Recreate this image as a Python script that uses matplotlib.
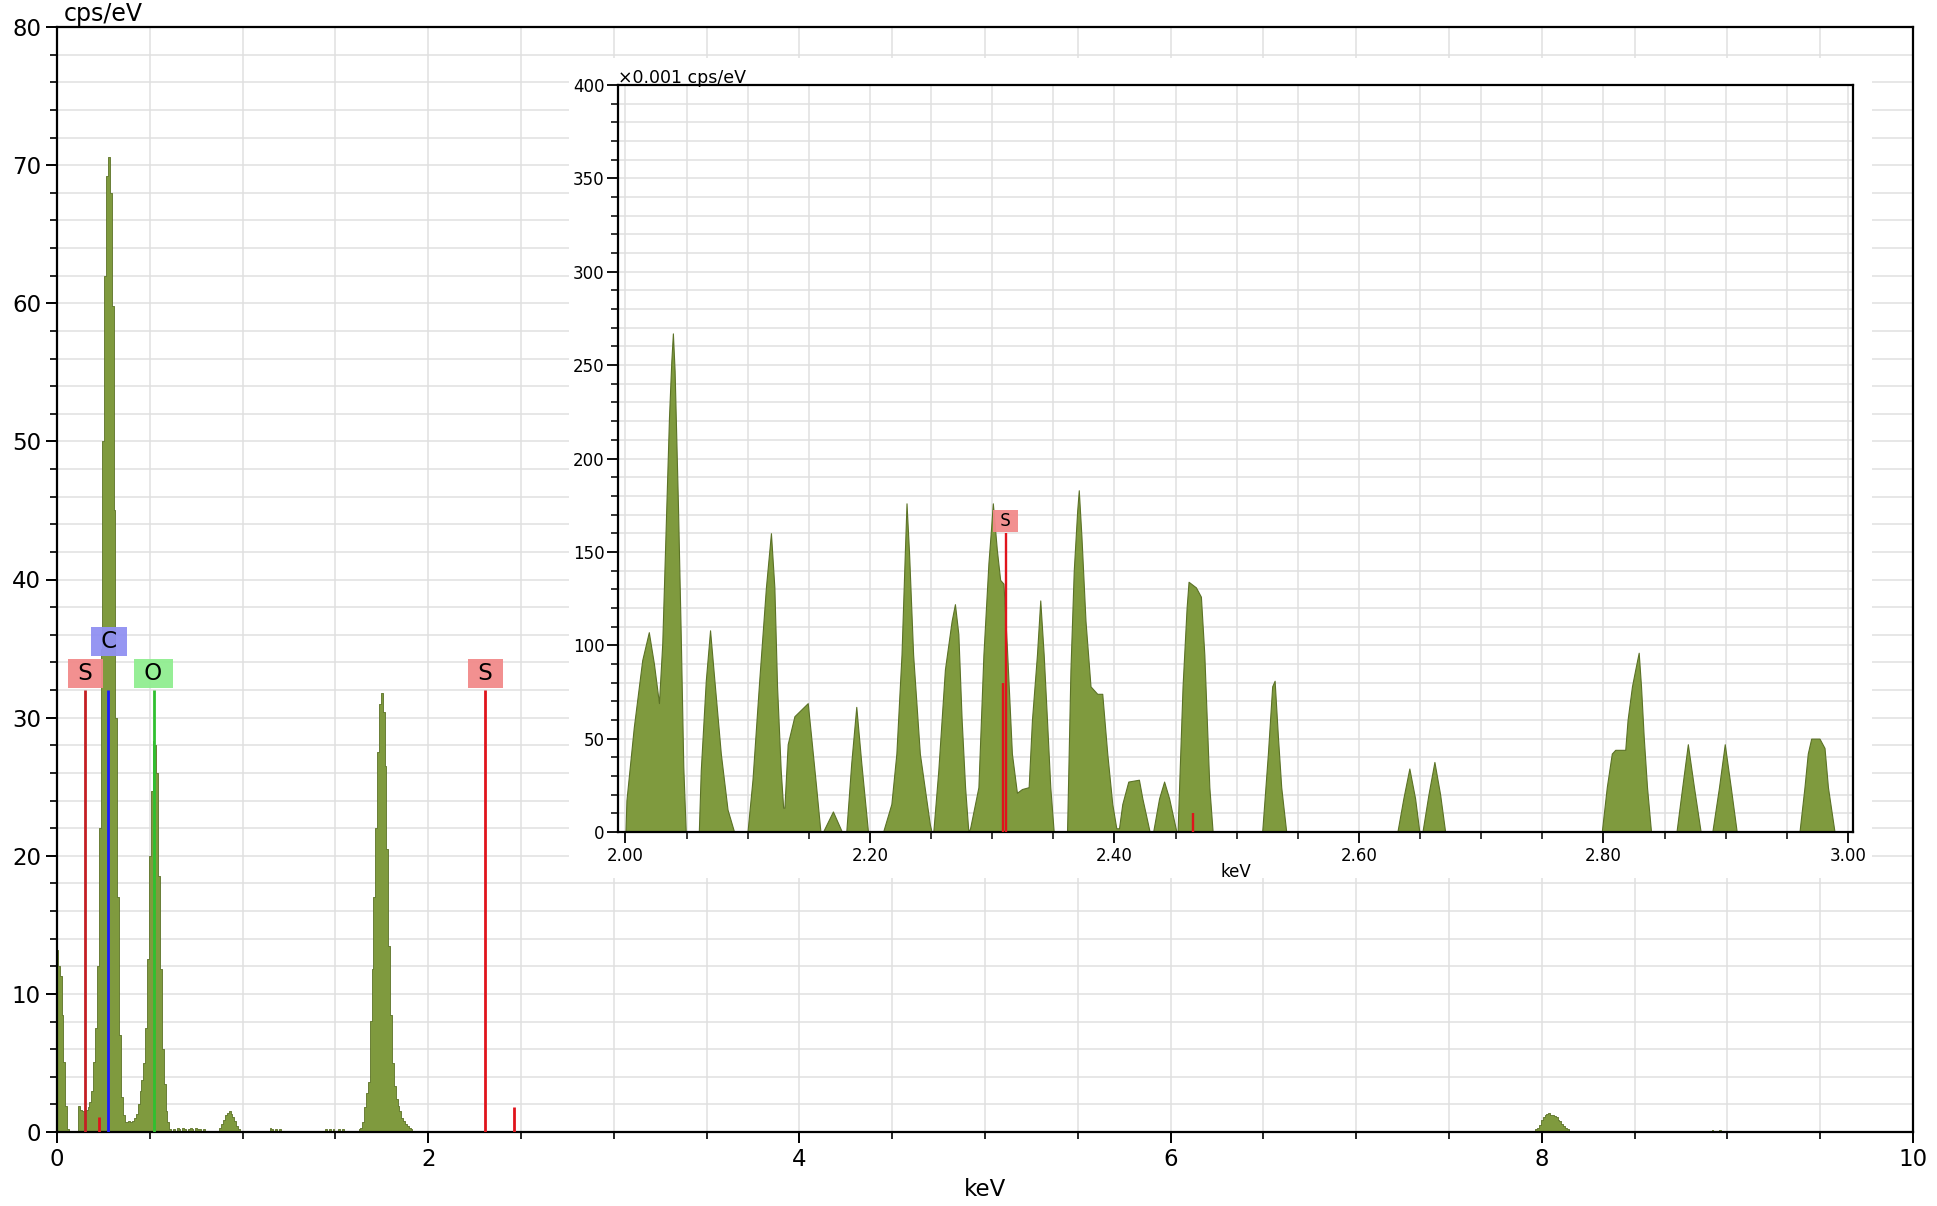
import matplotlib
matplotlib.use("Agg")
import matplotlib.pyplot as plt
from matplotlib.ticker import MultipleLocator, FormatStrFormatter
from matplotlib.patches import Rectangle

plt.rcParams['font.family'] = ['DejaVu Sans']

# ---------------- main spectrum (keV, cps/eV), 10 eV channels ----------------
main_kev = [0.00, 0.01, 0.02, 0.03, 0.04, 0.05, 0.06, 0.07,
            0.11, 0.12, 0.13, 0.14, 0.15, 0.16, 0.17, 0.18, 0.19, 0.20,
            0.21, 0.22, 0.23, 0.24, 0.25, 0.26, 0.27, 0.28, 0.29, 0.30,
            0.31, 0.32, 0.33, 0.34, 0.35, 0.36, 0.37, 0.38, 0.39, 0.40,
            0.41, 0.42, 0.43, 0.44, 0.45, 0.46, 0.47, 0.48, 0.49, 0.50,
            0.51, 0.52, 0.53, 0.54, 0.55, 0.56, 0.57, 0.58, 0.59, 0.60,
            0.61, 0.62, 0.63, 0.64, 0.65, 0.66, 0.67, 0.68, 0.69, 0.70,
            0.71, 0.72, 0.73, 0.74, 0.75, 0.76, 0.77, 0.78, 0.79, 0.80,
            0.86, 0.87, 0.88, 0.89, 0.90, 0.91, 0.92, 0.93, 0.94, 0.95,
            0.96, 0.97, 0.98, 0.99,
            1.14, 1.15, 1.16, 1.17, 1.18, 1.19, 1.20, 1.21, 1.22,
            1.44, 1.45, 1.46, 1.47, 1.48, 1.49, 1.50, 1.51, 1.52, 1.53, 1.54, 1.55,
            1.62, 1.63, 1.64, 1.65, 1.66, 1.67, 1.68, 1.69, 1.70, 1.71, 1.72,
            1.73, 1.74, 1.75, 1.76, 1.77, 1.78, 1.79, 1.80, 1.81, 1.82,
            1.83, 1.84, 1.85, 1.86, 1.87, 1.88, 1.89, 1.90, 1.91, 1.92,
            7.96, 7.97, 7.98, 7.99, 8.00, 8.01, 8.02, 8.03, 8.04, 8.05,
            8.06, 8.07, 8.08, 8.09, 8.10, 8.11, 8.12, 8.13, 8.14, 8.15, 8.16,
            8.91, 8.92, 8.93, 8.94, 8.95, 8.96, 8.97]
main_cps = [13.2, 12.0, 11.3, 8.5, 5.1, 1.9, 0.2, 0.0,
            0.0, 1.9, 1.6, 1.5, 1.5, 1.6, 1.8, 2.2, 3.0, 5.1,
            7.5, 12.0, 22.0, 35.0, 50.0, 62.0, 69.2, 70.6, 68.0, 59.8,
            45.0, 30.0, 17.0, 7.0, 2.5, 1.2, 0.7, 0.7, 0.8, 0.7,
            0.8, 1.0, 1.3, 2.0, 3.0, 3.8, 5.0, 7.5, 12.5, 20.0,
            24.7, 28.3, 28.0, 26.0, 18.5, 11.8, 6.0, 3.5, 1.5, 0.7,
            0.2, 0.0, 0.2, 0.1, 0.3, 0.2, 0.1, 0.3, 0.2, 0.1,
            0.2, 0.3, 0.2, 0.1, 0.3, 0.2, 0.2, 0.1, 0.2, 0.0,
            0.0, 0.1, 0.3, 0.6, 0.9, 1.2, 1.4, 1.5, 1.3, 1.1,
            0.8, 0.4, 0.2, 0.0,
            0.0, 0.3, 0.2, 0.1, 0.2, 0.1, 0.2, 0.1, 0.0,
            0.0, 0.2, 0.1, 0.2, 0.1, 0.2, 0.1, 0.1, 0.2, 0.1, 0.2, 0.0,
            0.0, 0.2, 0.3, 0.7, 1.8, 2.8, 3.6, 8.0, 11.8, 17.0, 22.0,
            27.5, 31.0, 31.8, 30.4, 26.5, 20.5, 13.5, 8.5, 5.0, 3.3,
            2.4, 1.9, 1.5, 1.0, 0.8, 0.6, 0.4, 0.3, 0.2, 0.0,
            0.0, 0.2, 0.3, 0.5, 0.9, 1.1, 1.2, 1.3, 1.35, 1.2,
            1.25, 1.15, 1.1, 0.9, 0.8, 0.6, 0.4, 0.3, 0.2, 0.1, 0.0,
            0.0, 0.15, 0.1, 0.0, 0.1, 0.15, 0.0]

# element marker lines in the main panel
main_line_elem = ["S", "C", "O", "S"]
main_line_kev = [0.149, 0.277, 0.525, 2.307]
main_line_top = [32.0, 32.0, 32.0, 32.0]
main_label_kev = [0.153, 0.280, 0.520, 2.310]
main_label_y = [33.2, 35.5, 33.2, 33.2]
minor_line_kev = [0.228, 2.464]
minor_line_top = [1.1, 1.8]

# ---------------- inset spectrum (keV, x0.001 cps/eV) ----------------
inset_kev = [2.0000, 2.0008, 2.0068, 2.0137, 2.0191, 2.0233, 2.0274, 2.0301,
             2.0356, 2.0375, 2.0388, 2.0402, 2.0429, 2.0452, 2.0473, 2.0493,
             2.0600, 2.0616, 2.0657, 2.0692, 2.0725, 2.0780, 2.0835, 2.0889,
             2.0998, 2.1039, 2.1094, 2.1149, 2.1190, 2.1218, 2.1240, 2.1270,
             2.1290, 2.1300, 2.1327, 2.1382, 2.1491, 2.1519, 2.1560, 2.1595,
             2.1615, 2.1697, 2.1771,
             2.1806, 2.1847, 2.1888, 2.1929, 2.1984,
             2.2107, 2.2175, 2.2216, 2.2258, 2.2285, 2.2299, 2.2320, 2.2353,
             2.2408, 2.2490, 2.2504,
             2.2518, 2.2559, 2.2613, 2.2668, 2.2695, 2.2723, 2.2750, 2.2778, 2.2805,
             2.2819, 2.2887, 2.2928, 2.2969, 2.2991, 2.3005, 2.3038, 2.3065,
             2.3092, 2.3120, 2.3161, 2.3202, 2.3243, 2.3298, 2.3325, 2.3366,
             2.3393, 2.3421, 2.3448, 2.3475, 2.3503,
             2.3612, 2.3640, 2.3667, 2.3695, 2.3708, 2.3730, 2.3763, 2.3804,
             2.3859, 2.3900, 2.3941, 2.3982, 2.4015,
             2.4037, 2.4064, 2.4113, 2.4200, 2.4228, 2.4288,
             2.4316, 2.4365, 2.4406, 2.4447, 2.4507,
             2.4516, 2.4557, 2.4590, 2.4606, 2.4666, 2.4707, 2.4735, 2.4776, 2.4803,
             2.5208, 2.5255, 2.5290, 2.5310, 2.5337, 2.5364, 2.5405,
             2.6314, 2.6363, 2.6412, 2.6459, 2.6494,
             2.6519, 2.6568, 2.6617, 2.6664, 2.6705,
             2.7986, 2.8027, 2.8068, 2.8096, 2.8178, 2.8197, 2.8233, 2.8260,
             2.8288, 2.8307, 2.8329, 2.8356, 2.8389,
             2.8597, 2.8644, 2.8690, 2.8740, 2.8795,
             2.8890, 2.8945, 2.8992, 2.9041, 2.9090,
             2.9603, 2.9644, 2.9671, 2.9699, 2.9767, 2.9808, 2.9836, 2.9890]
inset_cps = [0, 17, 56, 92, 107, 90, 69, 101,
             222, 252, 267, 247, 176, 106, 35, 0,
             0, 33, 81, 108, 83, 42, 12, 0,
             0, 28, 81, 131, 160, 131, 78, 33,
             13, 13, 47, 62, 69, 51, 24, 0,
             0, 11, 0,
             0, 37, 67, 37, 0,
             0, 15, 42, 95, 149, 176, 149, 95,
             42, 4, 0,
             0, 33, 87, 113, 122, 106, 60, 24, 0,
             2, 24, 95, 144, 163, 176, 151, 135,
             133, 99, 42, 21, 23, 24, 60, 95,
             124, 95, 60, 24, 0,
             0, 87, 140, 172, 183, 158, 113, 78,
             74, 74, 42, 15, 2,
             2, 15, 27, 28, 18, 0,
             0, 18, 27, 18, 0,
             0, 78, 120, 134, 131, 126, 95, 24, 0,
             0, 42, 78, 81, 51, 24, 0,
             0, 18, 34, 18, 0,
             0, 20, 37.5, 20, 0,
             0, 24, 42, 44, 44, 60, 78, 87,
             96, 78, 51, 24, 0,
             0, 24, 47, 24, 0,
             0, 24, 47, 24, 0,
             0, 24, 42, 50, 50, 45, 24, 0]

inset_line_kev = [2.3085, 2.3115, 2.4645]
inset_line_top = [80, 160, 10]
inset_label_kev = 2.311
inset_label_y = 166.6

# ---------------- styling ----------------
FILL = '#7f9a3e'
EDGE = '#5b7226'
GRID = '#e0e0e0'
elem_line_color = {"S": '#e0141c', "C": '#1a1aff', "O": '#2fc02f'}
elem_box_color = {"S": '#f28a8a', "C": '#9090f2', "O": '#90ee90'}

W, H = 1937, 1206
fig = plt.figure(figsize=(W / 100, H / 100), dpi=100)

# main axes
ax = fig.add_axes([57 / W, 1 - 1132 / H, (1913 - 57) / W, (1132 - 27) / H], zorder=0)
ax.set_xlim(0, 10)
ax.set_ylim(0, 80)
ax.xaxis.set_major_locator(MultipleLocator(2))
ax.xaxis.set_minor_locator(MultipleLocator(0.5))
ax.yaxis.set_major_locator(MultipleLocator(10))
ax.yaxis.set_minor_locator(MultipleLocator(2))
ax.set_axisbelow(True)
ax.grid(True, which='both', color=GRID, lw=1.1)
for s in ax.spines.values():
    s.set_color('black')
    s.set_linewidth(1.6)
ax.tick_params(which='major', direction='out', length=8, width=1.4,
               labelsize=16.5, pad=3.5, top=False, right=False)
ax.tick_params(which='minor', direction='out', length=5, width=1.2,
               top=False, right=False)

ax.fill_between(main_kev, main_cps, 0, step='mid', facecolor=FILL,
                edgecolor=EDGE, lw=0.6, zorder=2)

for el, kv, top in zip(main_line_elem, main_line_kev, main_line_top):
    col = elem_line_color[el]
    if el == "S" and kv < 1:
        col = '#c41f24'
    ax.vlines(kv, 0, top, colors=col, lw=2.0, zorder=3)
ax.vlines(minor_line_kev, 0, minor_line_top, colors='#e0141c', lw=2.0, zorder=3)
for el, kv, yv in zip(main_line_elem, main_label_kev, main_label_y):
    ax.text(kv, yv, f" {el} ", ha='center', va='center', fontsize=16.5,
            color='black', zorder=5,
            bbox=dict(boxstyle='square,pad=0.13', fc=elem_box_color[el],
                      ec='none', alpha=0.95))

ax.set_xlabel('keV', fontsize=16.5)
ax.xaxis.set_label_coords(0.5, -(1190 - 1132) / (1132 - 27))
ax.xaxis.label.set_va('center')
fig.text(64 / W, 1 - 21 / H, 'cps/eV', fontsize=17, va='baseline', ha='left')

# white backdrop behind the inset
fig.patches.append(Rectangle((569 / W, 1 - 878 / H), (1872 - 569) / W,
                             (878 - 58) / H, transform=fig.transFigure,
                             facecolor='white', edgecolor='none', zorder=1))

# inset axes
ix = fig.add_axes([618 / W, 1 - 832 / H, (1853 - 618) / W, (832 - 85) / H], zorder=2)
ix.set_xlim(1.9939, 3.0041)
ix.set_ylim(0, 400)
ix.xaxis.set_major_locator(MultipleLocator(0.2))
ix.xaxis.set_minor_locator(MultipleLocator(0.05))
ix.yaxis.set_major_locator(MultipleLocator(50))
ix.yaxis.set_minor_locator(MultipleLocator(10))
ix.xaxis.set_major_formatter(FormatStrFormatter('%.2f'))
ix.set_axisbelow(True)
ix.grid(True, which='both', color=GRID, lw=1.1)
for s in ix.spines.values():
    s.set_color('black')
    s.set_linewidth(1.6)
ix.tick_params(which='major', direction='out', length=8, width=1.3,
               labelsize=12, pad=2.5, top=False, right=False)
ix.tick_params(axis='y', which='major', pad=1.5)
ix.tick_params(which='minor', direction='out', length=5, width=1.1,
               top=False, right=False)

ix.fill_between(inset_kev, inset_cps, 0, facecolor=FILL, edgecolor=EDGE,
                lw=0.8, zorder=2)
ix.vlines(inset_line_kev, 0, inset_line_top, colors='#e0141c', lw=1.7, zorder=3)
ix.text(inset_label_kev, inset_label_y, " S ", ha='center', va='center',
        fontsize=12, color='black', zorder=5,
        bbox=dict(boxstyle='square,pad=0.12', fc=elem_box_color["S"],
                  ec='none', alpha=0.95))

ix.set_xlabel('keV', fontsize=12)
ix.xaxis.set_label_coords(0.5, -(872 - 832) / (832 - 85))
ix.xaxis.label.set_va('center')
fig.text(618 / W, 1 - 83 / H, '×0.001 cps/eV', fontsize=12.5, va='baseline',
         ha='left')

fig.savefig('out.png', dpi=100, facecolor='white')
